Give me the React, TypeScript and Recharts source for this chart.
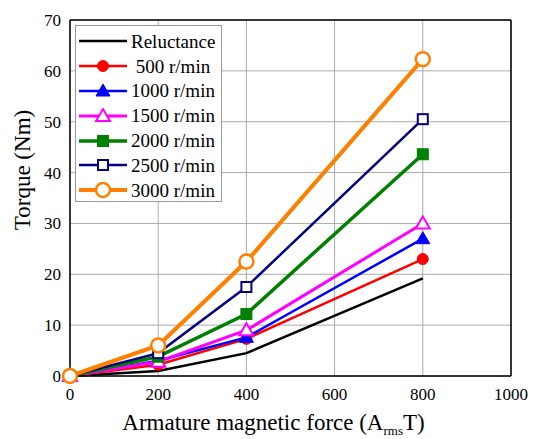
import { LineChart, Line, XAxis, YAxis, CartesianGrid, ReferenceLine } from 'recharts';

const armatureMmf = [0, 200, 400, 800];
const reluctance = [0, 1.0, 4.5, 19.2];
const rpm500 = [0, 2.2, 7.3, 23.0];
const rpm1000 = [0, 3.0, 7.6, 27.0];
const rpm1500 = [0, 2.8, 9.0, 30.0];
const rpm2000 = [0, 3.8, 12.2, 43.6];
const rpm2500 = [0, 4.5, 17.5, 50.5];
const rpm3000 = [0, 6.0, 22.5, 62.3];
const xTicks = [0, 200, 400, 600, 800, 1000];
const yTicks = [0, 10, 20, 30, 40, 50, 60, 70];

type Marker = 'none' | 'circle' | 'triangle' | 'triangleOpen' | 'square' | 'squareOpen' | 'circleOpen';

const series: { key: string; name: string; values: number[]; color: string; width: number; marker: Marker }[] = [
  { key: 'rel', name: 'Reluctance', values: reluctance, color: '#000000', width: 2.5, marker: 'none' },
  { key: 'r500', name: ' 500 r/min', values: rpm500, color: '#ff0000', width: 2.5, marker: 'circle' },
  { key: 'r1000', name: '1000 r/min', values: rpm1000, color: '#0000ff', width: 2.5, marker: 'triangle' },
  { key: 'r1500', name: '1500 r/min', values: rpm1500, color: '#ff00ff', width: 3, marker: 'triangleOpen' },
  { key: 'r2000', name: '2000 r/min', values: rpm2000, color: '#008000', width: 3.5, marker: 'square' },
  { key: 'r2500', name: '2500 r/min', values: rpm2500, color: '#000080', width: 2.5, marker: 'squareOpen' },
  { key: 'r3000', name: '3000 r/min', values: rpm3000, color: '#ff8000', width: 4, marker: 'circleOpen' },
];

const rows = armatureMmf.map((x, i) => {
  const row: Record<string, number> = { x };
  series.forEach((s) => { row[s.key] = s.values[i]; });
  return row;
});

const FONT = "'Liberation Serif', 'Times New Roman', 'DejaVu Serif', serif";

function markerShape(kind: Marker, cx: number, cy: number, color: string, k?: string | number) {
  switch (kind) {
    case 'circle':
      return <circle key={k} cx={cx} cy={cy} r={5.5} fill={color} stroke={color} />;
    case 'circleOpen':
      return <circle key={k} cx={cx} cy={cy} r={7} fill="#fff" stroke={color} strokeWidth={2.5} />;
    case 'triangle':
      return <path key={k} d={`M${cx},${cy - 7} L${cx + 7},${cy + 5} L${cx - 7},${cy + 5} Z`} fill={color} stroke={color} />;
    case 'triangleOpen':
      return <path key={k} d={`M${cx},${cy - 7} L${cx + 7},${cy + 5} L${cx - 7},${cy + 5} Z`} fill="#fff" stroke={color} strokeWidth={2} />;
    case 'square':
      return <rect key={k} x={cx - 5.5} y={cy - 5.5} width={11} height={11} fill={color} stroke={color} />;
    case 'squareOpen':
      return <rect key={k} x={cx - 5} y={cy - 5} width={10} height={10} fill="#fff" stroke={color} strokeWidth={2} />;
    default:
      return <g key={k} />;
  }
}

function XTitle(props: any) {
  const { x, y, width } = props.viewBox;
  return (
    <text x={x + width / 2 - 17} y={y + 54} textAnchor="middle" fontFamily={FONT} fontSize={23} fill="#000">
      Armature magnetic force (A
      <tspan dy={5} fontSize={13}>rms</tspan>
      <tspan dy={-5}>T)</tspan>
    </text>
  );
}

function YTitle(props: any) {
  const { y, height } = props.viewBox;
  const cy = y + height / 2 - 28;
  return (
    <text x={30} y={cy} transform={`rotate(-90 30 ${cy})`} textAnchor="middle" fontFamily={FONT} fontSize={23} fill="#000">
      Torque (Nm)
    </text>
  );
}

function LegendBox() {
  return (
    <div
      style={{
        position: 'absolute', left: 75, top: 25, width: 147, height: 177,
        border: '1px solid #999', background: '#fff', boxSizing: 'border-box',
        padding: '3px 0 0 2px', fontFamily: FONT, fontSize: 19,
      }}
    >
      {series.map((s) => (
        <div key={s.key} style={{ display: 'flex', alignItems: 'center', height: 24.8, whiteSpace: 'pre' }}>
          <svg width={50} height={16} style={{ flex: 'none' }}>
            <line x1={1} y1={8} x2={49} y2={8} stroke={s.color} strokeWidth={s.width} />
            {markerShape(s.marker, 25, 8, s.color)}
          </svg>
          <span style={{ marginLeft: 3, lineHeight: 1, fontFamily: FONT }}>{s.name}</span>
        </div>
      ))}
    </div>
  );
}

export default function App() {
  return (
    <div style={{ position: 'absolute', left: 0, top: 0, width: 536, height: 439, background: '#fff', fontFamily: FONT }}>
      <LineChart width={536} height={439} data={rows} margin={{ top: 20, right: 25, bottom: 7, left: 28 }}>
        <CartesianGrid stroke="#aaa" strokeWidth={1} />
        <XAxis
          dataKey="x"
          type="number"
          domain={[0, 1000]}
          ticks={xTicks}
          height={56}
          stroke="#000"
          strokeWidth={1.5}
          tickLine={false}
          tickMargin={6}
          tick={{ fontFamily: FONT, fontSize: 17, fill: '#000' }}
          label={{ content: XTitle }}
        />
        <YAxis
          type="number"
          domain={[0, 70]}
          ticks={yTicks}
          width={42}
          stroke="#000"
          strokeWidth={1.5}
          tickLine={false}
          tickMargin={3}
          tick={{ fontFamily: FONT, fontSize: 17, fill: '#000' }}
          label={{ content: YTitle }}
        />
        <ReferenceLine x={1000} stroke="#000" strokeWidth={1.5} />
        <ReferenceLine y={70} stroke="#000" strokeWidth={1.5} />
        {series.map((s) => (
          <Line
            key={s.key}
            dataKey={s.key}
            name={s.name}
            type="linear"
            stroke={s.color}
            strokeWidth={s.width}
            isAnimationActive={false}
            dot={(p: any) => markerShape(s.marker, p.cx, p.cy, s.color, p.index)}
            activeDot={false}
          />
        ))}
      </LineChart>
      <LegendBox />
    </div>
  );
}
